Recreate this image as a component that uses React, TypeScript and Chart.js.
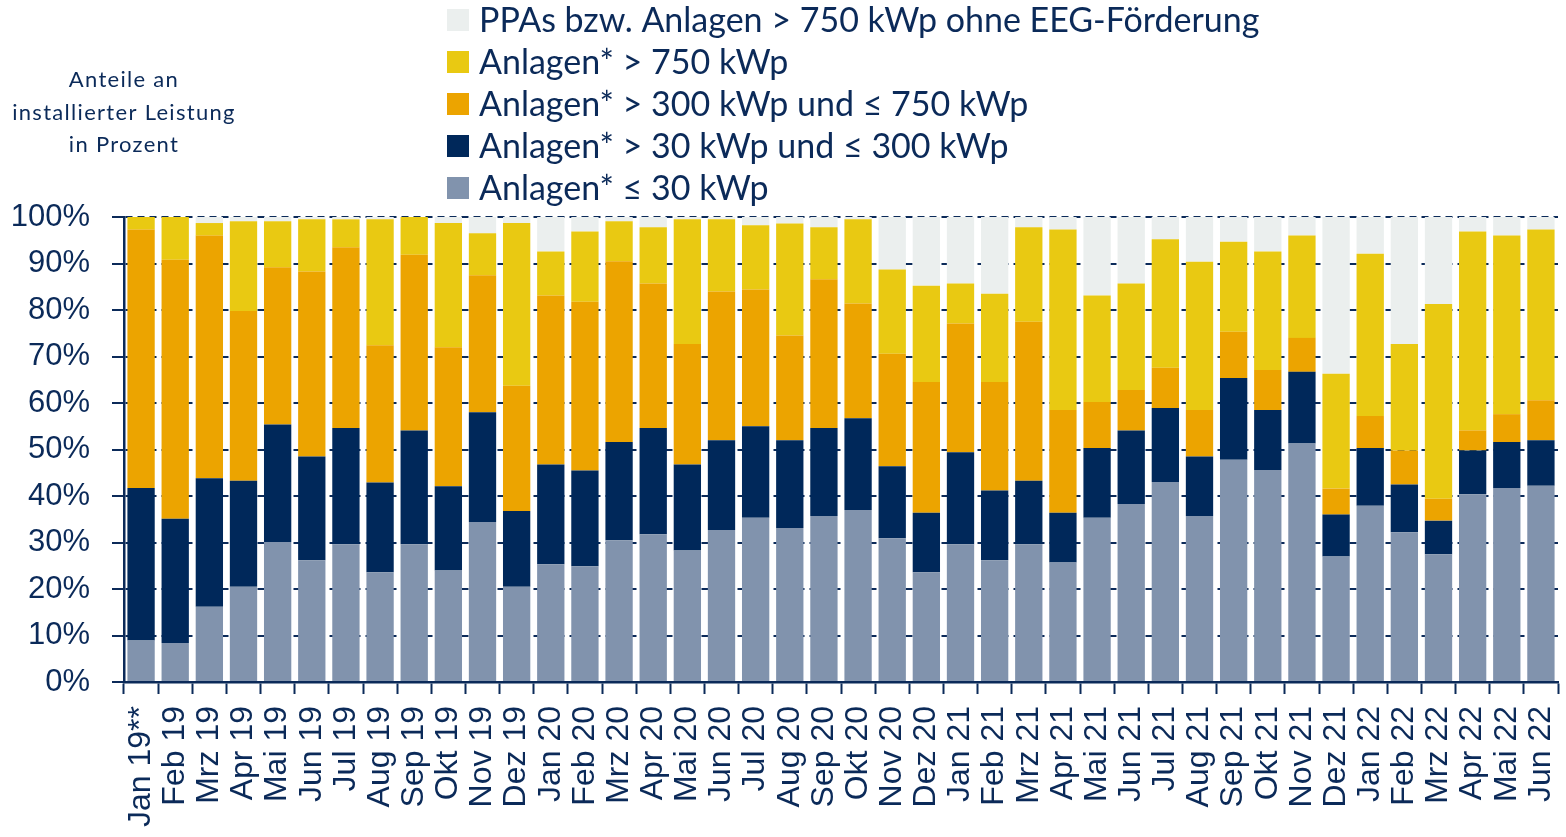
import React, { useEffect, useRef } from "react";
import { Chart, registerables } from "chart.js";

Chart.register(...registerables);

const months = [
  "Jan 19**", "Feb 19", "Mrz 19", "Apr 19", "Mai 19", "Jun 19", "Jul 19", "Aug 19", "Sep 19", "Okt 19", "Nov 19", "Dez 19",
  "Jan 20", "Feb 20", "Mrz 20", "Apr 20", "Mai 20", "Jun 20", "Jul 20", "Aug 20", "Sep 20", "Okt 20", "Nov 20", "Dez 20",
  "Jan 21", "Feb 21", "Mrz 21", "Apr 21", "Mai 21", "Jun 21", "Jul 21", "Aug 21", "Sep 21", "Okt 21", "Nov 21", "Dez 21",
  "Jan 22", "Feb 22", "Mrz 22", "Apr 22", "Mai 22", "Jun 22",
];

// Anlagen* ≤ 30 kWp
const upTo30 = [
  8.9, 8.4, 16.2, 20.5, 30.1, 26.2, 29.6, 23.6, 29.6, 24.0, 34.4, 20.5,
  25.3, 24.9, 30.5, 31.8, 28.3, 32.7, 35.3, 33.1, 35.7, 37.0, 30.9, 23.6,
  29.6, 26.2, 29.6, 25.7, 35.3, 38.3, 43.0, 35.7, 47.8, 45.6, 51.3, 27.0,
  37.9, 32.2, 27.5, 40.4, 41.7, 42.2,
];
// Anlagen* > 30 kWp und ≤ 300 kWp
const from30to300 = [
  32.8, 26.7, 27.6, 22.8, 25.3, 22.3, 25.0, 19.3, 24.5, 18.1, 23.6, 16.3,
  21.5, 20.6, 21.1, 22.8, 18.5, 19.3, 19.7, 18.9, 18.9, 19.7, 15.5, 12.8,
  19.8, 15.0, 13.7, 10.7, 15.0, 15.8, 15.9, 12.8, 17.6, 12.9, 15.4, 9.0,
  12.4, 10.3, 7.2, 9.4, 9.9, 9.8,
];
// Anlagen* > 300 kWp und ≤ 750 kWp
const from300to750 = [
  55.6, 55.7, 52.2, 36.5, 33.8, 39.8, 38.9, 29.5, 37.8, 29.9, 29.5, 26.9,
  36.3, 36.3, 38.9, 31.1, 25.9, 32.0, 29.4, 22.5, 32.0, 24.7, 24.2, 28.1,
  27.7, 23.3, 34.2, 22.1, 9.9, 8.7, 8.7, 10.0, 9.9, 8.6, 7.3, 5.6,
  6.9, 7.3, 4.7, 4.3, 6.0, 8.6,
];
// Anlagen* > 750 kWp
const above750 = [
  2.7, 9.2, 2.7, 19.3, 9.9, 11.2, 6.0, 27.1, 8.1, 26.7, 9.0, 35.0,
  9.5, 15.1, 8.6, 12.1, 26.8, 15.5, 13.8, 24.1, 11.2, 18.1, 18.1, 20.7,
  8.6, 19.0, 20.3, 38.8, 22.9, 22.9, 27.6, 31.9, 19.4, 25.5, 22.0, 24.7,
  34.9, 22.9, 41.9, 42.8, 38.4, 36.7,
];
// PPAs bzw. Anlagen > 750 kWp ohne EEG-Förderung
const ppaNoEeg = [
  0, 0, 1.3, 0.9, 0.9, 0.5, 0.5, 0.5, 0, 1.3, 3.5, 1.3,
  7.4, 3.1, 0.9, 2.2, 0.5, 0.5, 1.8, 1.4, 2.2, 0.5, 11.3, 14.8,
  14.3, 16.5, 2.2, 2.7, 16.9, 14.3, 4.8, 9.6, 5.3, 7.4, 4.0, 33.7,
  7.9, 27.3, 18.7, 3.1, 4.0, 2.7,
];

const seriesNames = [
  "Anlagen* ≤ 30 kWp",
  "Anlagen* > 30 kWp und ≤ 300 kWp",
  "Anlagen* > 300 kWp und ≤ 750 kWp",
  "Anlagen* > 750 kWp",
  "PPAs bzw. Anlagen > 750 kWp ohne EEG-Förderung",
];
const seriesColors = ["#8193AD", "#00285A", "#ECA400", "#E9C912", "#EBEFEE"];
const axisTitleLines = ["Anteile an", "installierter Leistung", "in Prozent"];

const NAVY = "#0B2A59";

const overlayPlugin = {
  id: "overlay",
  afterDraw(chart: any) {
    const ctx = chart.ctx as CanvasRenderingContext2D;
    ctx.save();
    const ds = chart.data.datasets;
    const startY = 20;
    const step = 42;
    for (let i = 0; i < ds.length; i++) {
      const d = ds[ds.length - 1 - i];
      const cy = startY + i * step;
      ctx.fillStyle = d.backgroundColor;
      ctx.fillRect(447, cy - 11, 22, 22);
      ctx.fillStyle = NAVY;
      ctx.font = "34px Lato";
      ctx.textAlign = "left";
      ctx.textBaseline = "middle";
      ctx.fillText(d.label, 479, cy + 1);
    }
    ctx.font = "22px Lato";
    ctx.textAlign = "center";
    ctx.textBaseline = "middle";
    (ctx as any).letterSpacing = "1.3px";
    ctx.fillStyle = NAVY;
    axisTitleLines.forEach((t, i) => ctx.fillText(t, 124, 80 + i * 32.5));
    ctx.restore();
  },
};

export default function App() {
  const ref = useRef<HTMLCanvasElement | null>(null);
  useEffect(() => {
    if (!ref.current) return;
    const values = [upTo30, from30to300, from300to750, above750, ppaNoEeg];
    const chart = new Chart(ref.current, {
      type: "bar",
      data: {
        labels: months,
        datasets: values.map((v, i) => ({
          label: seriesNames[i],
          data: v,
          backgroundColor: seriesColors[i],
          borderWidth: 0,
          categoryPercentage: 1,
          barPercentage: 0.8,
        })),
      },
      options: {
        animation: false,
        responsive: true,
        maintainAspectRatio: false,
        layout: { padding: { top: 217, right: 8, bottom: 0, left: 0 } },
        plugins: { legend: { display: false }, tooltip: { enabled: false } },
        scales: {
          x: {
            stacked: true,
            afterFit: (s: any) => { s.height = 155; s.paddingRight = 0; s.paddingLeft = 0; },
            grid: {
              display: true,
              drawOnChartArea: false,
              drawTicks: true,
              tickLength: 12,
              tickWidth: 2,
              tickColor: NAVY,
              color: NAVY,
              offset: true,
            },
            border: { display: true, color: NAVY, width: 2.5 },
            ticks: {
              autoSkip: false,
              minRotation: 90,
              maxRotation: 90,
              padding: 12,
              color: NAVY,
              font: { family: "Liberation Sans", size: 32 },
            },
          },
          y: {
            stacked: true,
            min: 0,
            max: 100,
            afterFit: (s: any) => { s.width = 124; s.paddingTop = 0; s.paddingBottom = 0; },
            grid: {
              color: NAVY,
              lineWidth: 2,
              drawTicks: true,
              tickLength: 12,
              tickWidth: 2,
              tickColor: NAVY,
              tickBorderDash: [],
            },
            border: { display: true, color: NAVY, width: 2.5, dash: [7, 5] },
            ticks: {
              stepSize: 10,
              padding: 22,
              color: NAVY,
              font: { family: "Liberation Sans", size: 31 },
              callback: (v: any) => `${v}%`,
            },
          },
        },
      },
      plugins: [overlayPlugin],
    });
    return () => chart.destroy();
  }, []);
  return (
    <div style={{ position: "absolute", left: 0, top: 0, width: 1566, height: 837, background: "#fff" }}>
      <canvas ref={ref} />
    </div>
  );
}
